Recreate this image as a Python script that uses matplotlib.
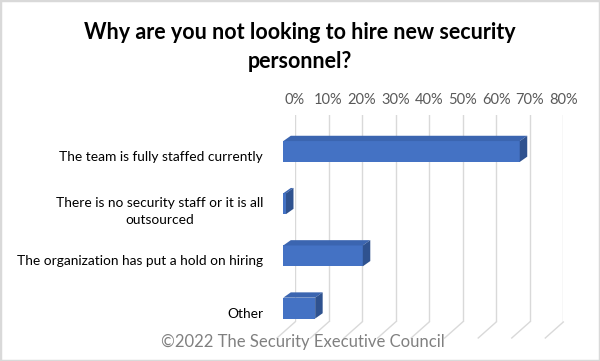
import matplotlib
matplotlib.use("Agg")
import matplotlib.pyplot as plt
from matplotlib.patches import Polygon, Rectangle
from matplotlib.lines import Line2D
from matplotlib import transforms as mtrans
import numpy as np

categories = ["The team is fully staffed currently",
              "There is no security staff or it is all\noutsourced",
              "The organization has put a hold on hiring",
              "Other"]
values = [70.5, 0.8, 23.7, 9.5]
tick_values = [0, 10, 20, 30, 40, 50, 60, 70, 80]
tick_labels = ["0%", "10%", "20%", "30%", "40%", "50%", "60%", "70%", "80%"]
title = "Why are you not looking to hire new security\npersonnel?"
source = "\u00a92022 The Security Executive Council"

FONT = ["Lato", "DejaVu Sans"]
plt.rcParams['font.family'] = FONT

W, H = 600, 361
DPI = 100
fig = plt.figure(figsize=(W / DPI, H / DPI), dpi=DPI)
fig.patch.set_facecolor("white")


def fx(px):
    return px / W


def fy(py):
    return 1 - py / H


# ---- back wall (gridlines + tick labels) ----
back_left, back_right, back_top, back_bottom = 295, 563.3, 115, 322
back = fig.add_axes([fx(back_left), fy(back_bottom),
                     (back_right - back_left) / W, (back_bottom - back_top) / H])
back.set_xlim(0, 80)
back.set_ylim(0, 1)
back.set_xticks(tick_values)
back.set_xticklabels(tick_labels)
back.xaxis.tick_top()
back.tick_params(axis='x', length=0, pad=6.0, colors='#595959', labelsize=10.5)
back.set_yticks([])
back.patch.set_visible(False)
for s in back.spines.values():
    s.set_visible(False)
back.grid(axis='x', color='#d9d9d9', lw=1.0)

# floor gridlines (oblique depth)
floor_dx, floor_dy = -18, -16
for t in tick_values:
    p0 = back.transData.transform((t, 0))
    fig.add_artist(Line2D([p0[0], p0[0] + floor_dx], [p0[1], p0[1] + floor_dy],
                          transform=mtrans.IdentityTransform(),
                          color='#d9d9d9', lw=1.0, zorder=0.5))

# ---- bars (front plane) ----
front_left = 283.3
band = 52.2
first_center = 151.5
ax_top = first_center - band / 2
ax_h = band * len(categories)
ax = fig.add_axes([fx(front_left), fy(ax_top + ax_h),
                   (back_right - back_left) / W, ax_h / H])
ax.set_xlim(0, 80)
ax.set_ylim(len(categories) - 0.5, -0.5)
ax.patch.set_visible(False)
for s in ax.spines.values():
    s.set_visible(False)
ax.set_xticks([])
ypos = np.arange(len(categories))
ax.set_yticks(ypos)
ax.set_yticklabels(categories, fontsize=9.9, color='#000000')
ax.tick_params(axis='y', length=0, pad=14.5)
shift = mtrans.ScaledTranslation(0, -4.5 / DPI, fig.dpi_scale_trans)
for lab in ax.get_yticklabels():
    lab.set_transform(lab.get_transform() + shift)
    lab.set_multialignment('center')
    lab.set_linespacing(1.45)

front_color = '#4472C4'
top_color = '#3B65B0'
side_color = '#2F528F'
bar_h = 0.4
bars = ax.barh(ypos, values, height=bar_h, color=front_color, zorder=3)

ddx, ddy = 7.5, 5.3
ident = mtrans.IdentityTransform()
for y, v in zip(ypos, values):
    fl_top = ax.transData.transform((0, y - bar_h / 2))
    fr_top = ax.transData.transform((v, y - bar_h / 2))
    fr_bot = ax.transData.transform((v, y + bar_h / 2))
    off = np.array([ddx, ddy])
    top = Polygon([fl_top, fr_top, fr_top + off, fl_top + off], closed=True,
                  transform=ident, facecolor=top_color, edgecolor='none', zorder=2)
    side = Polygon([fr_top, fr_bot, fr_bot + off, fr_top + off], closed=True,
                   transform=ident, facecolor=side_color, edgecolor='none', zorder=2)
    fig.add_artist(top)
    fig.add_artist(side)

# ---- title, source, border ----
fig.text(0.5, fy(47), title, ha='center', va='center', fontsize=15.5,
         fontweight='bold', color='#000000', linespacing=1.5)
fig.text(fx(303), fy(342), source, ha='center', va='center', fontsize=12,
         color='#808080', zorder=5)
fig.add_artist(Rectangle((0, 0), 1, 1, transform=fig.transFigure, fill=False,
                         edgecolor='#d9d9d9', lw=2.5, zorder=10))

fig.savefig("out.png", dpi=DPI)
